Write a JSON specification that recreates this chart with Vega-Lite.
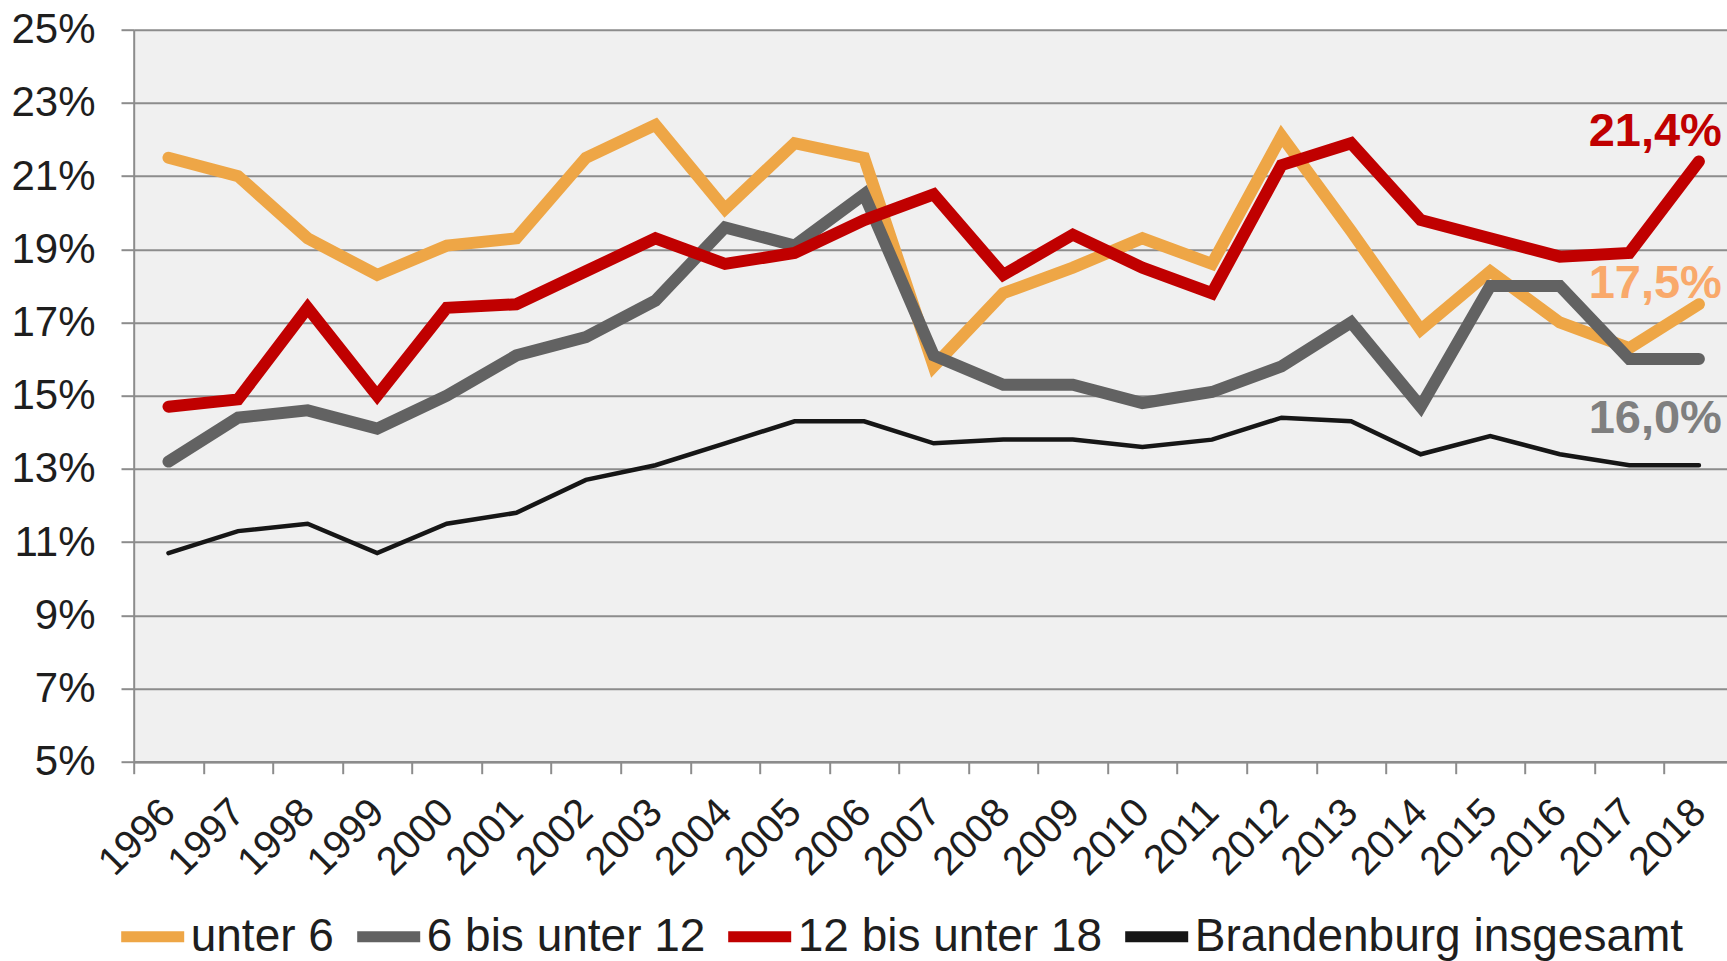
{
  "$schema": "https://vega.github.io/schema/vega-lite/v6.json",
  "autosize": {"type": "none"},
  "width": 1593.3,
  "height": 732,
  "padding": {"left": 133.7, "top": 29.7, "right": 0, "bottom": 199.3},
  "background": "#ffffff",
  "config": {
    "font": "Liberation Sans",
    "view": {"fill": "#F0F0F0", "stroke": null}
  },
  "datasets": {
    "main": [
      {"year": "1996", "series": "unter 6", "value": 21.5},
      {"year": "1997", "series": "unter 6", "value": 21.0},
      {"year": "1998", "series": "unter 6", "value": 19.3},
      {"year": "1999", "series": "unter 6", "value": 18.3},
      {"year": "2000", "series": "unter 6", "value": 19.1},
      {"year": "2001", "series": "unter 6", "value": 19.3},
      {"year": "2002", "series": "unter 6", "value": 21.5},
      {"year": "2003", "series": "unter 6", "value": 22.4},
      {"year": "2004", "series": "unter 6", "value": 20.1},
      {"year": "2005", "series": "unter 6", "value": 21.9},
      {"year": "2006", "series": "unter 6", "value": 21.5},
      {"year": "2007", "series": "unter 6", "value": 15.8},
      {"year": "2008", "series": "unter 6", "value": 17.8},
      {"year": "2009", "series": "unter 6", "value": 18.5},
      {"year": "2010", "series": "unter 6", "value": 19.3},
      {"year": "2011", "series": "unter 6", "value": 18.6},
      {"year": "2012", "series": "unter 6", "value": 22.1},
      {"year": "2013", "series": "unter 6", "value": 19.5},
      {"year": "2014", "series": "unter 6", "value": 16.8},
      {"year": "2015", "series": "unter 6", "value": 18.4},
      {"year": "2016", "series": "unter 6", "value": 17.0},
      {"year": "2017", "series": "unter 6", "value": 16.3},
      {"year": "2018", "series": "unter 6", "value": 17.5},
      {"year": "1996", "series": "6 bis unter 12", "value": 13.2},
      {"year": "1997", "series": "6 bis unter 12", "value": 14.4},
      {"year": "1998", "series": "6 bis unter 12", "value": 14.6},
      {"year": "1999", "series": "6 bis unter 12", "value": 14.1},
      {"year": "2000", "series": "6 bis unter 12", "value": 15.0},
      {"year": "2001", "series": "6 bis unter 12", "value": 16.1},
      {"year": "2002", "series": "6 bis unter 12", "value": 16.6},
      {"year": "2003", "series": "6 bis unter 12", "value": 17.6},
      {"year": "2004", "series": "6 bis unter 12", "value": 19.6},
      {"year": "2005", "series": "6 bis unter 12", "value": 19.1},
      {"year": "2006", "series": "6 bis unter 12", "value": 20.5},
      {"year": "2007", "series": "6 bis unter 12", "value": 16.1},
      {"year": "2008", "series": "6 bis unter 12", "value": 15.3},
      {"year": "2009", "series": "6 bis unter 12", "value": 15.3},
      {"year": "2010", "series": "6 bis unter 12", "value": 14.8},
      {"year": "2011", "series": "6 bis unter 12", "value": 15.1},
      {"year": "2012", "series": "6 bis unter 12", "value": 15.8},
      {"year": "2013", "series": "6 bis unter 12", "value": 17.0},
      {"year": "2014", "series": "6 bis unter 12", "value": 14.7},
      {"year": "2015", "series": "6 bis unter 12", "value": 18.0},
      {"year": "2016", "series": "6 bis unter 12", "value": 18.0},
      {"year": "2017", "series": "6 bis unter 12", "value": 16.0},
      {"year": "2018", "series": "6 bis unter 12", "value": 16.0},
      {"year": "1996", "series": "12 bis unter 18", "value": 14.7},
      {"year": "1997", "series": "12 bis unter 18", "value": 14.9},
      {"year": "1998", "series": "12 bis unter 18", "value": 17.4},
      {"year": "1999", "series": "12 bis unter 18", "value": 15.0},
      {"year": "2000", "series": "12 bis unter 18", "value": 17.4},
      {"year": "2001", "series": "12 bis unter 18", "value": 17.5},
      {"year": "2002", "series": "12 bis unter 18", "value": 18.4},
      {"year": "2003", "series": "12 bis unter 18", "value": 19.3},
      {"year": "2004", "series": "12 bis unter 18", "value": 18.6},
      {"year": "2005", "series": "12 bis unter 18", "value": 18.9},
      {"year": "2006", "series": "12 bis unter 18", "value": 19.8},
      {"year": "2007", "series": "12 bis unter 18", "value": 20.5},
      {"year": "2008", "series": "12 bis unter 18", "value": 18.3},
      {"year": "2009", "series": "12 bis unter 18", "value": 19.4},
      {"year": "2010", "series": "12 bis unter 18", "value": 18.5},
      {"year": "2011", "series": "12 bis unter 18", "value": 17.8},
      {"year": "2012", "series": "12 bis unter 18", "value": 21.3},
      {"year": "2013", "series": "12 bis unter 18", "value": 21.9},
      {"year": "2014", "series": "12 bis unter 18", "value": 19.8},
      {"year": "2015", "series": "12 bis unter 18", "value": 19.3},
      {"year": "2016", "series": "12 bis unter 18", "value": 18.8},
      {"year": "2017", "series": "12 bis unter 18", "value": 18.9},
      {"year": "2018", "series": "12 bis unter 18", "value": 21.4},
      {"year": "1996", "series": "Brandenburg insgesamt", "value": 10.7},
      {"year": "1997", "series": "Brandenburg insgesamt", "value": 11.3},
      {"year": "1998", "series": "Brandenburg insgesamt", "value": 11.5},
      {"year": "1999", "series": "Brandenburg insgesamt", "value": 10.7},
      {"year": "2000", "series": "Brandenburg insgesamt", "value": 11.5},
      {"year": "2001", "series": "Brandenburg insgesamt", "value": 11.8},
      {"year": "2002", "series": "Brandenburg insgesamt", "value": 12.7},
      {"year": "2003", "series": "Brandenburg insgesamt", "value": 13.1},
      {"year": "2004", "series": "Brandenburg insgesamt", "value": 13.7},
      {"year": "2005", "series": "Brandenburg insgesamt", "value": 14.3},
      {"year": "2006", "series": "Brandenburg insgesamt", "value": 14.3},
      {"year": "2007", "series": "Brandenburg insgesamt", "value": 13.7},
      {"year": "2008", "series": "Brandenburg insgesamt", "value": 13.8},
      {"year": "2009", "series": "Brandenburg insgesamt", "value": 13.8},
      {"year": "2010", "series": "Brandenburg insgesamt", "value": 13.6},
      {"year": "2011", "series": "Brandenburg insgesamt", "value": 13.8},
      {"year": "2012", "series": "Brandenburg insgesamt", "value": 14.4},
      {"year": "2013", "series": "Brandenburg insgesamt", "value": 14.3},
      {"year": "2014", "series": "Brandenburg insgesamt", "value": 13.4},
      {"year": "2015", "series": "Brandenburg insgesamt", "value": 13.9},
      {"year": "2016", "series": "Brandenburg insgesamt", "value": 13.4},
      {"year": "2017", "series": "Brandenburg insgesamt", "value": 13.1},
      {"year": "2018", "series": "Brandenburg insgesamt", "value": 13.1}
    ],
    "labels": [
      {"year": "2018", "series": "12 bis unter 18", "value": 21.4, "label": "21,4%"},
      {"year": "2018", "series": "unter 6", "value": 17.5, "label": "17,5%"},
      {"year": "2018", "series": "6 bis unter 12", "value": 16.0, "label": "16,0%"}
    ]
  },
  "encoding": {
    "x": {
      "field": "year",
      "type": "ordinal",
      "bandPosition": 0.5,
      "scale": {"type": "band", "range": [0, 1600], "paddingInner": 0, "paddingOuter": 0},
      "axis": {
        "title": null,
        "tickBand": "extent",
        "grid": false,
        "domainColor": "#8C8C8C",
        "domainWidth": 2.5,
        "tickColor": "#8C8C8C",
        "tickWidth": 2,
        "tickSize": 12,
        "labelAngle": -45,
        "labelAlign": "right",
        "labelBaseline": "middle",
        "labelFontSize": 40,
        "labelColor": "#1E1E1E",
        "labelPadding": 32,
        "labelDx": -5
      }
    },
    "y": {
      "field": "value",
      "type": "quantitative",
      "scale": {"domain": [5, 25], "nice": false, "zero": false},
      "axis": {
        "title": null,
        "values": [5, 7, 9, 11, 13, 15, 17, 19, 21, 23, 25],
        "labelExpr": "datum.value + '%'",
        "grid": true,
        "gridColor": "#8C8C8C",
        "gridWidth": 2,
        "domainColor": "#8C8C8C",
        "domainWidth": 2,
        "tickColor": "#8C8C8C",
        "tickWidth": 2,
        "tickSize": 12.7,
        "labelFontSize": 42,
        "labelColor": "#1E1E1E",
        "labelPadding": 26
      }
    }
  },
  "layer": [
    {
      "data": {"name": "main"},
      "mark": {"type": "line", "strokeCap": "round", "strokeJoin": "miter"},
      "encoding": {
        "color": {
          "field": "series",
          "type": "nominal",
          "sort": ["unter 6", "6 bis unter 12", "12 bis unter 18", "Brandenburg insgesamt"],
          "scale": {
            "domain": ["unter 6", "6 bis unter 12", "12 bis unter 18", "Brandenburg insgesamt"],
            "range": ["#EEA646", "#626262", "#C00000", "#161616"]
          },
          "legend": {
            "title": null,
            "orient": "none",
            "legendX": -18,
            "legendY": 870,
            "direction": "horizontal",
            "columns": 4,
            "padding": 0,
            "symbolType": "stroke",
            "symbolSize": 3969,
            "symbolStrokeWidth": 11,
            "labelFontSize": 46,
            "labelColor": "#1E1E1E",
            "labelOffset": 1,
            "columnPadding": 0,
            "labelLimit": 600
          }
        },
        "strokeWidth": {
          "condition": {"test": "datum.series === 'Brandenburg insgesamt'", "value": 4.5},
          "value": 12
        }
      }
    },
    {
      "data": {"name": "labels"},
      "transform": [{"filter": "datum.series == '12 bis unter 18'"}],
      "mark": {"type": "text", "align": "right", "baseline": "alphabetic", "dx": 23, "dy": -15, "fontSize": 47, "fontWeight": "bold", "color": "#C00000"},
      "encoding": {"text": {"field": "label"}}
    },
    {
      "data": {"name": "labels"},
      "transform": [{"filter": "datum.series == 'unter 6'"}],
      "mark": {"type": "text", "align": "right", "baseline": "alphabetic", "dx": 23, "dy": -6, "fontSize": 47, "fontWeight": "bold", "color": "#F9A96B"},
      "encoding": {"text": {"field": "label"}}
    },
    {
      "data": {"name": "labels"},
      "transform": [{"filter": "datum.series == '6 bis unter 12'"}],
      "mark": {"type": "text", "align": "right", "baseline": "alphabetic", "dx": 23, "dy": 74, "fontSize": 47, "fontWeight": "bold", "color": "#7F7F7F"},
      "encoding": {"text": {"field": "label"}}
    }
  ]
}
